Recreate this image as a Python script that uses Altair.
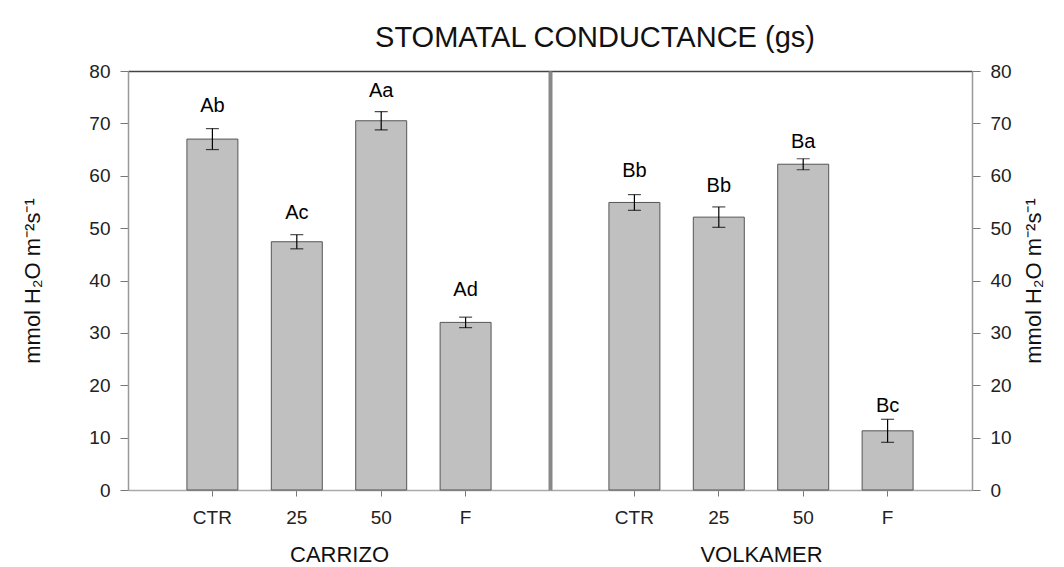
import altair as alt
import pandas as pd

# ---- data ----
treatments = ["CTR", "25", "50", "F"]
y_ticks = [0, 10, 20, 30, 40, 50, 60, 70, 80]

carrizo_mean = [67.0, 47.4, 70.5, 32.0]
carrizo_se = [2.0, 1.35, 1.75, 1.0]
carrizo_letters = ["Ab", "Ac", "Aa", "Ad"]
carrizo_label_y = [73.3, 52.8, 76.2, 38.2]

volkamer_mean = [54.9, 52.1, 62.2, 11.3]
volkamer_se = [1.5, 1.95, 1.05, 2.2]
volkamer_letters = ["Bb", "Bb", "Ba", "Bc"]
volkamer_label_y = [60.9, 58.1, 66.5, 16.1]

FONT = "Liberation Sans"
YTITLE = "mmol H\u2082O m\u207b\u00b2s\u207b\u00b9"


def make_df(mean, se, letters, label_y):
    return pd.DataFrame({
        "treat": treatments,
        "mean": mean,
        "lo": [m - s for m, s in zip(mean, se)],
        "hi": [m + s for m, s in zip(mean, se)],
        "letter": letters,
        "ly": label_y,
    })


def panel(df, name, side):
    xs = alt.Scale(domain=treatments, paddingInner=0.396, paddingOuter=0.698)
    ys = alt.Scale(domain=[0, 80], nice=False)
    extra = {}
    if side == "right":
        extra = {"titleBaseline": "top"}
    main_y_axis = alt.Axis(
        orient=side, values=y_ticks, tickSize=8, labelPadding=10,
        labelFontSize=19, labelColor="#222", tickColor="#777",
        domainColor="#999", domainWidth=1.5, grid=False,
        title=YTITLE, titleFontSize=22, titleFontWeight="normal",
        titleColor="#111", titleAngle=270,
        titlePadding=44 if side == "left" else 12, **extra,
    )
    x_axis = alt.Axis(
        orient="bottom", labelAngle=0, tickSize=6, labelPadding=12,
        labelFontSize=19, labelColor="#222", tickColor="#777",
        domainColor="#aaa", domainWidth=1.5, title=name, titleFontSize=22,
        titleFontWeight="normal", titleColor="#111", titlePadding=17,
    )
    bars = alt.Chart(df).mark_bar(fill="#c0c0c0", stroke="#555", strokeWidth=1).encode(
        x=alt.X("treat:N", scale=xs, sort=treatments, axis=x_axis),
        y=alt.Y("mean:Q", scale=ys, axis=main_y_axis),
    )
    top_x_axis = alt.Axis(orient="top", labels=False, ticks=False, title=None,
                          domainColor="#444", domainWidth=1.5)
    if side == "right":
        err_y_axis = alt.Axis(orient="left", labels=False, ticks=False, title=None,
                              domainColor="#888", domainWidth=4, grid=False)
    else:
        err_y_axis = None
    err = alt.Chart(df).mark_errorbar(
        color="black", thickness=1.2,
        ticks={"size": 13, "color": "black", "thickness": 1.2},
    ).encode(
        x=alt.X("treat:N", scale=xs, sort=treatments, axis=top_x_axis),
        y=alt.Y("lo:Q", scale=ys, axis=err_y_axis),
        y2="hi:Q",
    )
    labels = alt.Chart(df).mark_text(font=FONT, fontSize=20, color="black", baseline="middle").encode(
        x=alt.X("treat:N", scale=xs, sort=treatments, axis=None),
        y=alt.Y("ly:Q", scale=ys, axis=None),
        text="letter:N",
    )
    return alt.layer(bars, err, labels).resolve_axis(x="independent", y="independent").properties(
        width=422, height=419
    )


left = panel(make_df(carrizo_mean, carrizo_se, carrizo_letters, carrizo_label_y), "CARRIZO", "left")
right = panel(make_df(volkamer_mean, volkamer_se, volkamer_letters, volkamer_label_y), "VOLKAMER", "right")

chart = alt.hconcat(left, right, spacing=0, bounds="flush").properties(
    title=alt.TitleParams(
        "STOMATAL CONDUCTANCE (gs)", fontSize=29, font=FONT, fontWeight="normal",
        color="#111", anchor="middle", dx=62, offset=9,
    ),
    padding={"left": 13, "top": 15, "right": 5, "bottom": 0},
).configure_view(stroke=None).configure_axis(
    labelFont=FONT, titleFont=FONT
).configure(background="white")

chart.save("out.html", embed_options={"renderer": "svg", "actions": False})
